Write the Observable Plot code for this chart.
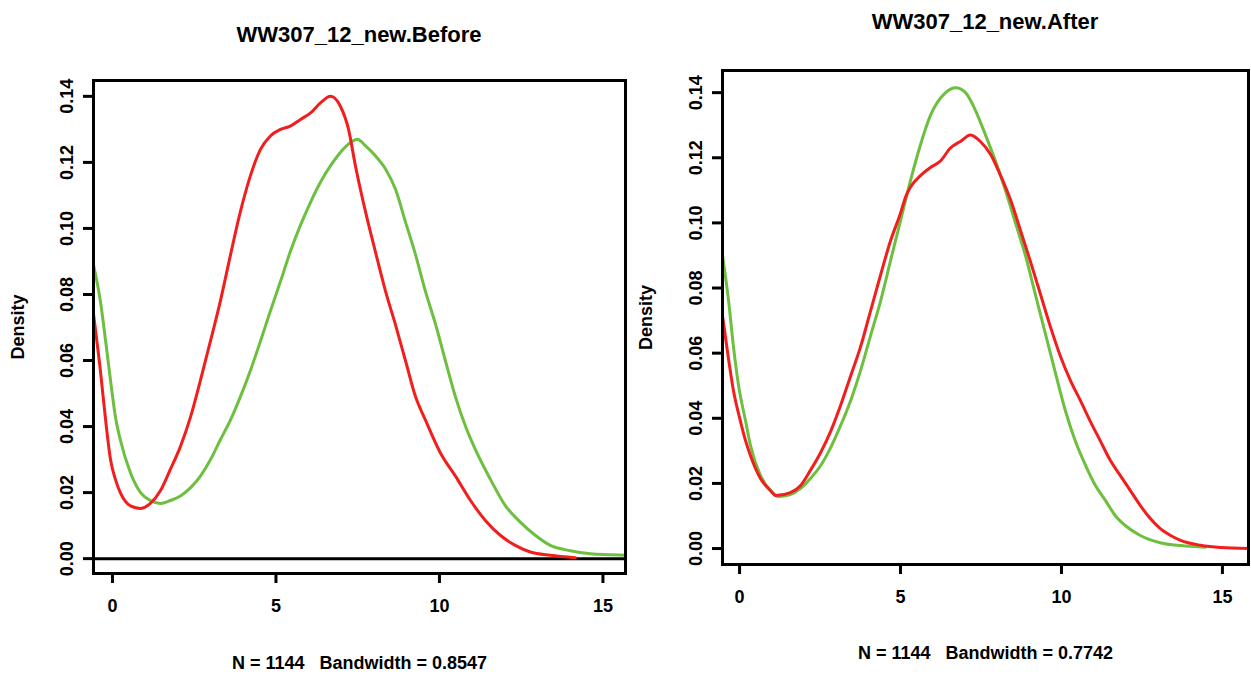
<!DOCTYPE html>
<html><head><meta charset="utf-8">
<script src="https://cdn.jsdelivr.net/npm/d3@7"></script>
<script src="https://cdn.jsdelivr.net/npm/@observablehq/plot@0.6"></script>
<style>
body{margin:0;background:#fff;font-family:"Liberation Sans",Arial,sans-serif;}
#wrap{position:relative;width:1251px;height:675px;overflow:hidden;background:#fff;}
.title{position:absolute;font-weight:bold;font-size:22px;transform:translateX(-50%);white-space:nowrap;color:#000;z-index:2;}
.panel{position:absolute;z-index:1;}
</style></head><body>
<div id="wrap">
  <div class="title" id="t1" style="left:359px;top:22px"></div>
  <div class="title" id="t2" style="left:985px;top:9px"></div>
  <div class="panel" id="p1" style="left:0px;top:40px"></div>
  <div class="panel" id="p2" style="left:630px;top:30px"></div>
</div>
<script>
// ---- data ----
const titles = ["WW307_12_new.Before", "WW307_12_new.After"];
const captions = ["N = 1144   Bandwidth = 0.8547", "N = 1144   Bandwidth = 0.7742"];
const xTicks = [0, 5, 10, 15];
const yTicks = [0, 0.02, 0.04, 0.06, 0.08, 0.10, 0.12, 0.14];
const seriesColors = {red: "#f21d1d", green: "#6cbf3f"};

// Before: red density [x, density]
const beforeRed = [[-0.58,0.074],[-0.37,0.057],[-0.21,0.042],[-0.06,0.030],[0.09,0.024],[0.24,0.020],[0.55,0.016],[0.86,0.0152],[1.16,0.0167],[1.47,0.0206],[1.77,0.027],[2.08,0.034],[2.39,0.043],[2.69,0.054],[3.0,0.066],[3.3,0.078],[3.61,0.092],[3.91,0.105],[4.22,0.116],[4.53,0.124],[4.83,0.128],[5.14,0.130],[5.44,0.131],[5.75,0.133],[6.06,0.135],[6.36,0.138],[6.67,0.140],[6.97,0.137],[7.22,0.130],[7.43,0.119],[7.74,0.105],[8.04,0.093],[8.35,0.081],[8.65,0.071],[8.96,0.060],[9.27,0.049],[9.57,0.042],[10.03,0.032],[10.49,0.025],[10.95,0.0176],[11.41,0.0115],[11.87,0.007],[12.32,0.004],[12.78,0.002],[13.39,0.001],[14.16,0.0003]];
// Before: green density
const beforeGreen = [[-0.58,0.089],[-0.37,0.078],[-0.21,0.066],[-0.06,0.054],[0.09,0.043],[0.24,0.036],[0.55,0.026],[0.86,0.020],[1.16,0.0176],[1.47,0.0167],[1.77,0.0176],[2.08,0.019],[2.39,0.0215],[2.69,0.025],[3.0,0.030],[3.3,0.036],[3.61,0.042],[3.91,0.049],[4.22,0.057],[4.53,0.066],[4.83,0.075],[5.14,0.084],[5.44,0.093],[5.75,0.101],[6.06,0.108],[6.36,0.114],[6.67,0.119],[6.97,0.123],[7.28,0.126],[7.49,0.127],[7.74,0.125],[8.04,0.122],[8.35,0.118],[8.65,0.112],[8.96,0.102],[9.27,0.092],[9.57,0.081],[9.88,0.071],[10.18,0.060],[10.49,0.049],[10.80,0.040],[11.10,0.033],[11.56,0.024],[12.02,0.016],[12.48,0.011],[12.94,0.007],[13.39,0.004],[14.0,0.0024],[14.62,0.0015],[15.23,0.0012],[15.69,0.001]];
// After: red density
const afterRed = [[-0.53,0.0715],[-0.34,0.058],[-0.19,0.0485],[0.03,0.039],[0.19,0.033],[0.34,0.0285],[0.65,0.0215],[0.96,0.0178],[1.12,0.0163],[1.58,0.0172],[1.89,0.0193],[2.2,0.024],[2.52,0.0295],[2.83,0.036],[3.14,0.044],[3.45,0.053],[3.76,0.062],[4.07,0.073],[4.38,0.084],[4.69,0.0945],[5.0,0.103],[5.16,0.108],[5.31,0.111],[5.62,0.1145],[5.93,0.117],[6.24,0.119],[6.55,0.123],[6.86,0.125],[7.17,0.127],[7.48,0.125],[7.80,0.121],[8.11,0.1145],[8.42,0.107],[8.73,0.0976],[9.04,0.088],[9.35,0.078],[9.66,0.068],[9.97,0.059],[10.28,0.0516],[10.59,0.0454],[10.9,0.039],[11.21,0.033],[11.52,0.027],[11.83,0.0224],[12.14,0.0178],[12.45,0.0132],[12.76,0.0092],[13.07,0.0061],[13.39,0.004],[13.70,0.0025],[14.32,0.001],[14.94,0.0003],[15.81,0.0]];
// After: green density
const afterGreen = [[-0.53,0.090],[-0.34,0.076],[-0.19,0.062],[-0.03,0.050],[0.19,0.039],[0.34,0.0316],[0.65,0.0224],[0.96,0.0178],[1.21,0.016],[1.58,0.0166],[1.89,0.0184],[2.2,0.0215],[2.52,0.0255],[2.83,0.031],[3.14,0.0378],[3.45,0.0454],[3.76,0.0547],[4.07,0.0654],[4.38,0.076],[4.69,0.0884],[5.0,0.1007],[5.31,0.113],[5.62,0.124],[5.93,0.133],[6.40,0.140],[6.71,0.1415],[7.02,0.140],[7.33,0.1345],[7.64,0.127],[7.95,0.119],[8.26,0.110],[8.57,0.100],[8.88,0.090],[9.19,0.078],[9.50,0.066],[9.81,0.054],[10.12,0.0424],[10.43,0.033],[10.75,0.0255],[11.06,0.0193],[11.37,0.0147],[11.68,0.010],[11.99,0.007],[12.45,0.004],[13.07,0.0018],[13.70,0.0009],[14.47,0.0004]];

// ---- drawing ----
const font = {fontFamily: "'Liberation Sans', Arial, sans-serif", fontSize: "17px", fontWeight: "bold"};

function panel({red, green, xDomain, yDomain, width, height, margins, caption, zeroLine, yLabelOffset, xLabelOffset}) {
  return Plot.plot({
    width, height,
    marginLeft: margins[0], marginRight: margins[1], marginTop: margins[2], marginBottom: margins[3],
    style: {...font, background: "transparent", color: "black", overflow: "visible"},
    x: {domain: xDomain},
    y: {domain: yDomain},
    marks: [
      zeroLine ? Plot.ruleY([0], {stroke: "black", strokeWidth: 3}) : null,
      Plot.line(green, {x: d => d[0], y: d => d[1], stroke: seriesColors.green, strokeWidth: 3, curve: "monotone-x", clip: true}),
      Plot.line(red, {x: d => d[0], y: d => d[1], stroke: seriesColors.red, strokeWidth: 3, curve: "monotone-x", clip: true}),
      Plot.frame({stroke: "black", strokeWidth: 3}),
      Plot.axisX({ticks: xTicks, tickSize: 10, tickPadding: 16, strokeWidth: 3, tickFormat: d3.format("d"),
        label: caption, labelAnchor: "center", labelOffset: xLabelOffset, labelArrow: "none", fontSize: 18, fontWeight: "bold"}),
      Plot.axisY({ticks: yTicks, tickSize: 10, tickPadding: 11, strokeWidth: 3, tickRotate: -90, tickFormat: d3.format(".2f"),
        label: "Density", labelAnchor: "center", labelOffset: yLabelOffset, labelArrow: "none", fontSize: 18, fontWeight: "bold"})
    ]
  });
}

document.getElementById("t1").textContent = titles[0];
document.getElementById("t2").textContent = titles[1];

document.getElementById("p1").appendChild(panel({
  red: beforeRed, green: beforeGreen,
  xDomain: [-0.58, 15.69], yDomain: [-0.0045, 0.1448],
  width: 630, height: 635, margins: [93, 5, 40, 102],
  caption: captions[0], zeroLine: true, yLabelOffset: 82, xLabelOffset: 95
}));
document.getElementById("p2").appendChild(panel({
  red: afterRed, green: afterGreen,
  xDomain: [-0.53, 15.81], yDomain: [-0.0049, 0.1468],
  width: 621, height: 645, margins: [92, 3, 40, 111],
  caption: captions[1], zeroLine: false, yLabelOffset: 83, xLabelOffset: 94
}));
</script>
</body></html>
